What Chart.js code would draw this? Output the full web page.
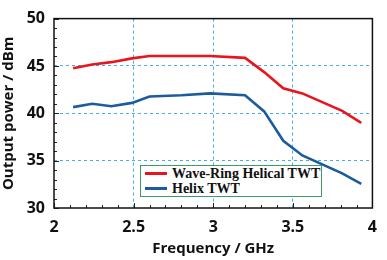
<!DOCTYPE html>
<html>
<head>
<meta charset="utf-8">
<script src="https://cdn.jsdelivr.net/npm/chart.js@4"></script>
<style>
  html, body { margin: 0; padding: 0; background: #fff; }
  #wrap { position: relative; width: 387px; height: 260px; }
  #legend {
    position: absolute; left: 140px; top: 165px; width: 180px; height: 30px;
    border: 1.5px solid #3f9a6a; background: #fff;
    font: bold 14px "Liberation Serif", serif; color: #111;
  }
  #legend div { height: 15px; line-height: 15px; white-space: nowrap; }
  #legend span.sw { display: inline-block; width: 22px; height: 3px; vertical-align: middle; margin: 0 5px 2px 4px; }
</style>
</head>
<body>
<div id="wrap">
  <canvas id="c" width="387" height="260"></canvas>
  <div id="legend"></div>
</div>
<script>
// frequency points (GHz)
const freq = [2.12, 2.24, 2.36, 2.49, 2.6, 2.8, 2.98, 3.2, 3.32, 3.44, 3.56, 3.81, 3.93];
// output power (dBm)
const waveRing = [44.75, 45.15, 45.4, 45.8, 46.05, 46.05, 46.05, 45.85, 44.35, 42.65, 42.1, 40.25, 39.0];
const helix = [40.65, 41.0, 40.75, 41.1, 41.77, 41.9, 42.1, 41.9, 40.2, 37.1, 35.55, 33.65, 32.55];
const seriesNames = ['Wave-Ring Helical TWT', 'Helix TWT'];
const seriesColors = ['#e8161c', '#1d5c9c'];
const xTicks = [2, 2.5, 3, 3.5, 4];
const yTicks = [30, 35, 40, 45, 50];

const legendBox = document.getElementById('legend');
seriesNames.forEach((name, i) => {
    const row = document.createElement('div');
    row.innerHTML = '<span class="sw" style="background:' + seriesColors[i] + '"></span>' + name;
    legendBox.appendChild(row);
});

// frame + inward minor ticks
const framePlugin = {
    id: 'frame',
    afterDatasetsDraw(chart) {
        const ctx = chart.ctx, a = chart.chartArea;
        const xs = chart.scales.x, ys = chart.scales.y;
        ctx.save();
        ctx.strokeStyle = '#222';
        ctx.lineWidth = 1;
        for (let v = 2; v <= 4.001; v += 0.1) {
            const px = Math.round(xs.getPixelForValue(v)) + 0.5;
            const major = Math.abs(v * 2 - Math.round(v * 2)) < 0.01;
            ctx.beginPath();
            ctx.moveTo(px, a.bottom);
            ctx.lineTo(px, a.bottom - (major ? 5 : 3));
            ctx.stroke();
        }
        for (let v = 30; v <= 50; v += 1) {
            const py = Math.round(ys.getPixelForValue(v)) + 0.5;
            ctx.beginPath();
            ctx.moveTo(a.left, py);
            ctx.lineTo(a.left + (v % 5 === 0 ? 5 : 3), py);
            ctx.stroke();
        }
        ctx.strokeStyle = '#111';
        ctx.lineWidth = 1.5;
        ctx.strokeRect(a.left, a.top, a.right - a.left, a.bottom - a.top);
        ctx.restore();
    }
};

const gridColor = (ctx, ends) => (ends.includes(ctx.tick.value) ? 'rgba(0,0,0,0)' : '#45aee0');

new Chart(document.getElementById('c'), {
    type: 'line',
    data: {
        datasets: [
            { label: seriesNames[0], data: freq.map((f, i) => ({ x: f, y: waveRing[i] })), borderColor: seriesColors[0], borderWidth: 2.6, pointRadius: 0, tension: 0 },
            { label: seriesNames[1], data: freq.map((f, i) => ({ x: f, y: helix[i] })), borderColor: seriesColors[1], borderWidth: 2.6, pointRadius: 0, tension: 0 }
        ]
    },
    options: {
        responsive: false,
        animation: false,
        layout: { padding: { left: 0, right: 6, top: 8, bottom: 0 } },
        plugins: { legend: { display: false }, tooltip: { enabled: false } },
        scales: {
            x: {
                type: 'linear', min: 2, max: 4,
                afterBuildTicks: s => { s.ticks = xTicks.map(v => ({ value: v })); },
                afterFit: s => { s.height = 52; },
                border: { display: false, dash: [3, 3] },
                grid: { color: c => gridColor(c, [2, 4]), drawTicks: false, lineWidth: 1 },
                ticks: { color: '#111', padding: 10, font: { family: 'Open Sans', weight: 'bold', size: 16 }, maxRotation: 0, callback: v => String(v) },
                title: { display: true, text: 'Frequency / GHz', color: '#111', padding: { top: 0, bottom: 2 }, font: { family: 'Open Sans', weight: 'bold', size: 15 } }
            },
            y: {
                min: 30, max: 50,
                afterBuildTicks: s => { s.ticks = yTicks.map(v => ({ value: v })); },
                afterFit: s => { s.width = 54; },
                border: { display: false, dash: [3, 3] },
                grid: { color: c => gridColor(c, [30, 50]), drawTicks: false, lineWidth: 1 },
                ticks: { color: '#111', padding: 9, font: { family: 'Open Sans', weight: 'bold', size: 16 }, callback: v => String(v) },
                title: { display: true, text: 'Output power / dBm', color: '#111', padding: { top: 0, bottom: 0 }, font: { family: 'Open Sans', weight: 'bold', size: 15 } }
            }
        }
    },
    plugins: [framePlugin]
});
</script>
</body>
</html>
